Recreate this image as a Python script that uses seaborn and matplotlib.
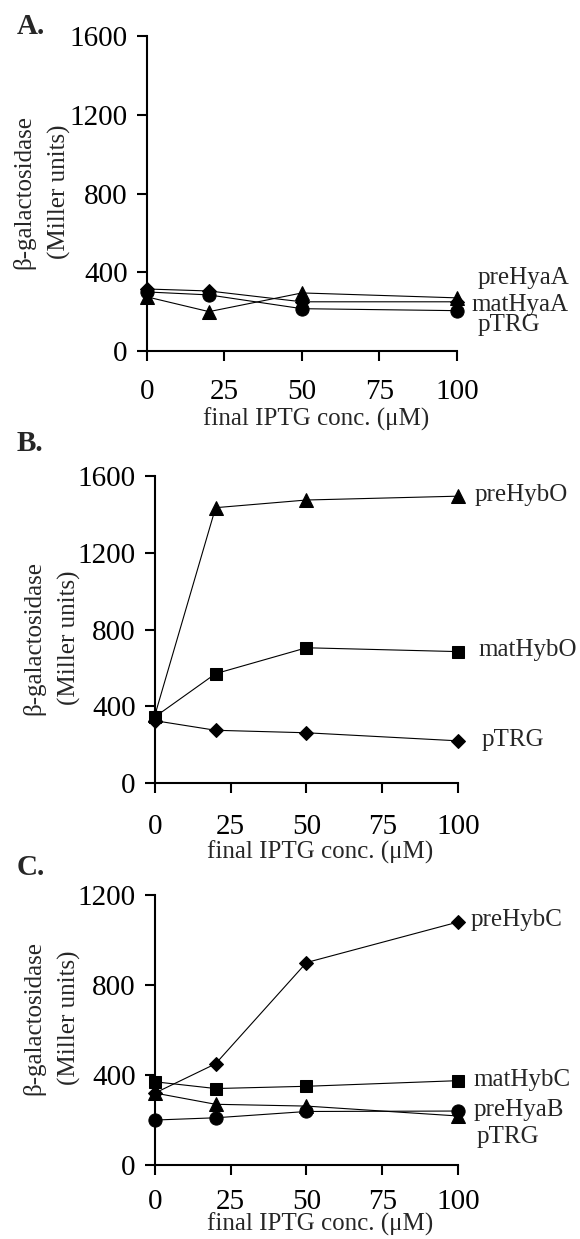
import matplotlib
matplotlib.use("Agg")
import matplotlib.pyplot as plt
import seaborn as sns
import pandas as pd

# ---------------- data ----------------
conc = [0, 20, 50, 100]

# Panel A
a_preHyaA = [275, 200, 295, 270]
a_matHyaA = [315, 305, 250, 250]
a_pTRG = [300, 285, 215, 205]

# Panel B
b_preHybO = [355, 1435, 1475, 1495]
b_matHybO = [345, 570, 705, 685]
b_pTRG = [325, 275, 262, 220]

# Panel C
c_preHybC = [320, 450, 900, 1080]
c_matHybC = [370, 340, 350, 375]
c_preHyaB = [200, 210, 238, 240]
c_pTRG = [320, 270, 262, 218]

x_ticks = [0, 25, 50, 75, 100]
yticks_ab = [0, 400, 800, 1200, 1600]
yticks_c = [0, 400, 800, 1200]

xlabel = "final IPTG conc. (\u03bcM)"
ylabel = "\u03b2-galactosidase\n(Miller units)"

# ---------------- style ----------------
sns.set_style("ticks")
plt.rcParams['font.family'] = ['Liberation Serif', 'DejaVu Serif']

fig = plt.figure(figsize=(5.8, 12.39), dpi=100)

panels = [
    dict(rect=[0.2534, 0.7167, 0.5345, 0.2542], ylim=1600, yticks=yticks_ab,
         series=[(a_preHyaA, '^', 9.5), (a_matHyaA, 'D', 7.5), (a_pTRG, 'o', 9.5)],
         labels=[("preHyaA", 106.5, 370), ("matHyaA", 104.8, 233), ("pTRG", 106.8, 132)],
         letter="A.", letter_y=0.9726, xpad=13.5, xlab_y=-0.216, ylab_y=0.505),
    dict(rect=[0.2672, 0.3680, 0.5224, 0.2478], ylim=1600, yticks=yticks_ab,
         series=[(b_preHybO, '^', 9.5), (b_matHybO, 's', 8.5), (b_pTRG, 'D', 7.5)],
         labels=[("preHybO", 105.6, 1500), ("matHybO", 106.6, 693), ("pTRG", 107.9, 224)],
         letter="B.", letter_y=0.636, xpad=15, xlab_y=-0.226, ylab_y=0.472),
    dict(rect=[0.2672, 0.0597, 0.5224, 0.2179], ylim=1200, yticks=yticks_c,
         series=[(c_preHybC, 'D', 7.5), (c_matHybC, 's', 8.5), (c_pTRG, '^', 9.5), (c_preHyaB, 'o', 9.5)],
         labels=[("preHybC", 104, 1089), ("matHybC", 105, 378), ("preHyaB", 105, 244), ("pTRG", 106.3, 124)],
         letter="C.", letter_y=0.2941, xpad=10, xlab_y=-0.218, ylab_y=0.544),
]

for p in panels:
    ax = fig.add_axes(p['rect'])
    for vals, mk, ms in p['series']:
        df = pd.DataFrame({'conc': conc, 'val': vals})
        sns.lineplot(data=df, x='conc', y='val', ax=ax, color='black', linewidth=0.8,
                     marker=mk, markersize=ms, markeredgecolor='black',
                     markerfacecolor='black', clip_on=False, zorder=3)
    ax.set_xlim(0, 100)
    ax.set_ylim(0, p['ylim'])
    ax.set_xticks(x_ticks)
    ax.set_yticks(p['yticks'])
    ax.tick_params(axis='both', direction='out', length=7, width=1.5, labelsize=21,
                   colors='black')
    ax.tick_params(axis='x', pad=p['xpad'])
    ax.tick_params(axis='y', pad=7)
    sns.despine(ax=ax)
    for s in ['left', 'bottom']:
        ax.spines[s].set_linewidth(1.5)
        ax.spines[s].set_color('black')
    ax.set_xlabel(xlabel, fontsize=18, va='center')
    ax.xaxis.set_label_coords(0.545, p['xlab_y'])
    ax.set_ylabel(ylabel, fontsize=18, va='center', linespacing=1.7)
    ax.yaxis.set_label_coords(-0.34, p['ylab_y'])
    for txt, lx, ly in p['labels']:
        ax.text(lx, ly, txt, fontsize=18, ha='left', va='center', clip_on=False)
    fig.text(0.029, p['letter_y'], p['letter'], fontsize=21, fontweight='bold',
             ha='left', va='baseline')

fig.savefig("out.png", dpi=100)
